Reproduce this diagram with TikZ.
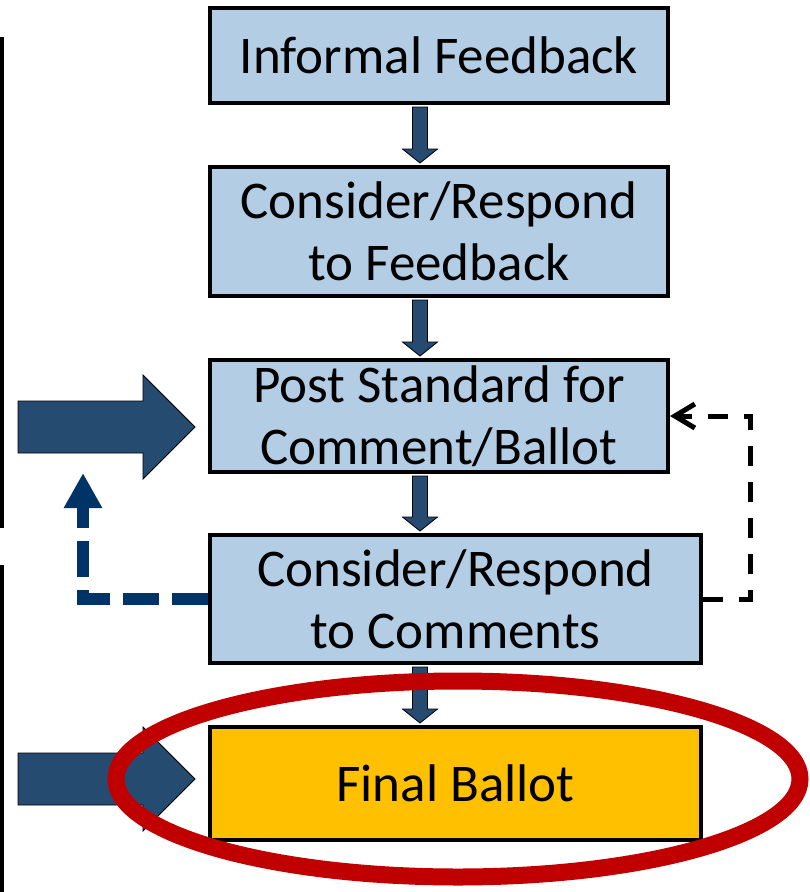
\documentclass[tikz,border=0pt]{standalone}
\usepackage{fontspec}
\setmainfont{Carlito}
\usetikzlibrary{arrows.meta,calc}
\definecolor{boxblue}{HTML}{B2CDE4}
\definecolor{bigblue}{HTML}{264B71}
\definecolor{dashblue}{HTML}{003366}
\definecolor{ballot}{HTML}{FFC000}
\definecolor{ringred}{HTML}{C00000}
\begin{document}
\begin{tikzpicture}[x=1pt,y=-1pt,
  box/.style={draw=black, line width=4pt, fill=boxblue, inner sep=0pt, align=center,
    font=\fontsize{53}{62}\selectfont},
  flowarrow/.style={fill=bigblue, draw=black, line width=0.8pt, line join=miter},
  loopback/.style={dashblue, line width=12pt, dash pattern=on 36pt off 13pt,
    -{Triangle[width=36pt,length=35pt]}},
  recheck/.style={black, line width=5pt, dash pattern=on 20pt off 16pt,
    -{Straight Barb[length=20pt,width=24pt]}},
  ring/.style={draw=ringred, line width=17pt},
  sideline/.style={draw=black, line width=4pt}
]
\useasboundingbox (0,0) rectangle (809,892);

% left brackets
\draw[sideline] (2,37) -- (2,528);
\draw[sideline] (2,565) -- (2,892);

% boxes
\node[box, minimum width=458pt, minimum height=95pt]  (b1) at (439,55.5)  {Informal Feedback};
\node[box, minimum width=458pt, minimum height=129pt] (b2) at (439,231.5) {Consider/Respond\\to Feedback};
\node[box, minimum width=458pt, minimum height=112pt] (b3) at (439,416)   {Post Standard for\\Comment/Ballot};
\node[box, minimum width=491pt, minimum height=128pt] (b4) at (455.5,599) {Consider/Respond\\to Comments};
\node[box, fill=ballot, minimum width=491pt, minimum height=113pt] (b5) at (455.5,783.5) {Final Ballot};

% small flow arrows
\coordinate (ax) at (420,0);
\foreach \a/\b in {b1/b2,b2/b3,b3/b4,b4/b5}{
  \draw[flowarrow] ($(ax|-\a.south)+(-7.5,2)$) -- ($(ax|-\b.north)+(-7.5,-16)$)
    -- ($(ax|-\b.north)+(-17.5,-16)$) -- ($(ax|-\b.north)+(0,-2)$)
    -- ($(ax|-\b.north)+(17.5,-16)$) -- ($(ax|-\b.north)+(7.5,-16)$)
    -- ($(ax|-\a.south)+(7.5,2)$) -- cycle;
}

% big block arrows
\draw[flowarrow] (18,401) -- (143,401) -- (143,375) -- (195,427) -- (143,479) -- (143,453) -- (18,453) -- cycle;
\draw[flowarrow] (18,753) -- (143,753) -- (143,727) -- (195,779) -- (143,831) -- (143,805) -- (18,805) -- cycle;

% dashed connectors
\coordinate (up) at (83,473);
\draw[loopback] (b4.west) -| (up);
\draw[recheck] (b4.east) -| ($(b3.east)+(80,0)$) -- (b3.east);

% highlight ring
\draw[ring] (458,779) ellipse [x radius=342pt, y radius=98pt];
\end{tikzpicture}
\end{document}
